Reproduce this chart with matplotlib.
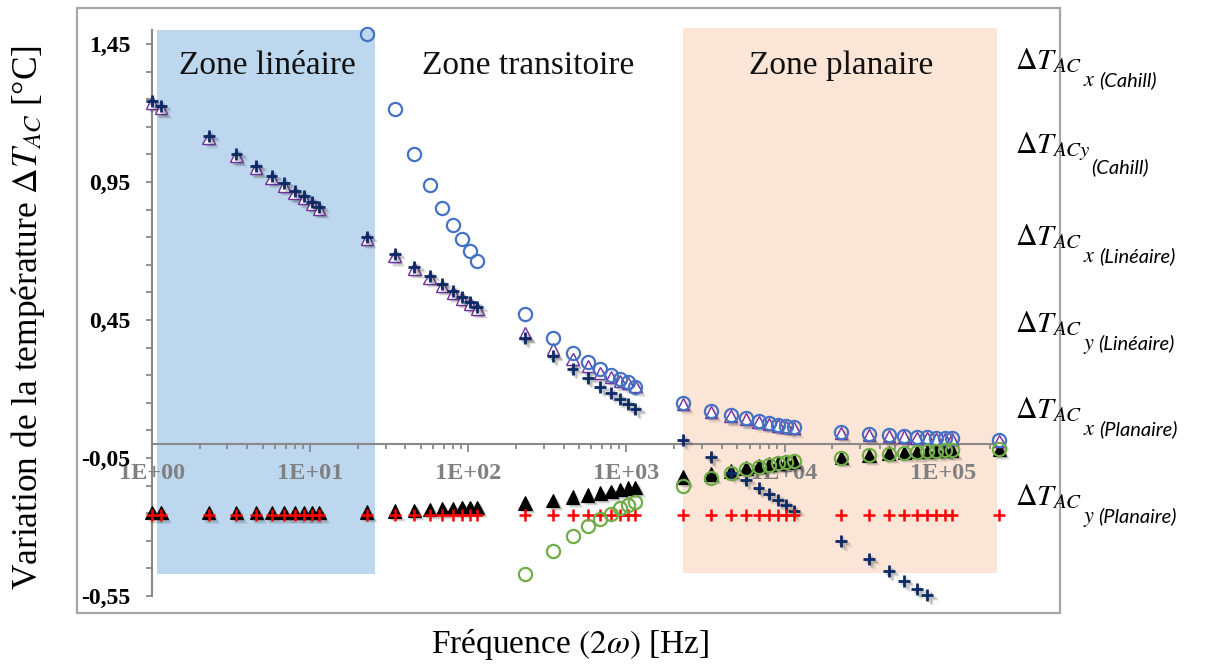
import numpy as np
import matplotlib
matplotlib.use("Agg")
import matplotlib.pyplot as plt
import matplotlib.patheffects as pe
from matplotlib.patches import Rectangle
from matplotlib.ticker import FixedLocator, LogLocator, NullFormatter, FuncFormatter

plt.rcParams['font.family'] = ['Liberation Serif', 'DejaVu Serif']
plt.rcParams['mathtext.fontset'] = 'stix'

nan = np.nan

# Excitation frequency 2w [Hz]
freq = [1.0, 1.14, 2.28, 3.42, 4.56, 5.70, 6.84, 7.98, 9.12, 10.26,
        11.4, 22.8, 34.2, 45.6, 57.0, 68.4, 79.8, 91.2, 102.6, 114.0,
        228.0, 342.0, 456.0, 570.0, 684.0, 798.0, 912.0, 1026.0, 1140.0,
        2280.0, 3420.0, 4560.0, 5700.0, 6840.0, 7980.0, 9120.0, 10260.0, 11400.0,
        22800.0, 34200.0, 45600.0, 57000.0, 68400.0, 79800.0, 91200.0, 102600.0, 114000.0,
        228000.0]

# Temperature oscillation components [degC]
cahill_x = [nan, nan, nan, nan, nan, nan, nan, nan, nan, nan,
            nan, 1.486, 1.214, 1.051, 0.939, 0.856, 0.794, 0.743, 0.700, 0.664,
            0.472, 0.385, 0.330, 0.298, 0.272, 0.251, 0.236, 0.225, 0.207,
            0.149, 0.120, 0.105, 0.094, 0.084, 0.077, 0.070, 0.066, 0.062,
            0.044, 0.037, 0.033, 0.030, 0.026, 0.026, 0.022, 0.022, 0.022,
            0.015]
cahill_y = [nan, nan, nan, nan, nan, nan, nan, nan, nan, nan,
            nan, nan, nan, nan, nan, nan, nan, nan, nan, nan,
            -0.470, -0.387, -0.333, -0.296, -0.271, -0.253, -0.232, -0.221, -0.210,
            -0.151, -0.122, -0.104, -0.090, -0.083, -0.075, -0.068, -0.065, -0.062,
            -0.050, -0.040, -0.034, -0.031, -0.029, -0.026, -0.025, -0.022, -0.021,
            -0.018]
lineaire_x = [1.243, 1.225, 1.117, 1.051, 1.008, 0.972, 0.946, 0.917, 0.899, 0.878,
              0.859, 0.751, 0.689, 0.642, 0.609, 0.580, 0.555, 0.533, 0.515, 0.497,
              0.385, 0.320, 0.272, 0.240, 0.207, 0.186, 0.164, 0.146, 0.128,
              0.015, -0.046, -0.105, -0.130, -0.159, -0.180, -0.202, -0.220, -0.242,
              -0.351, -0.416, -0.459, -0.496, -0.525, -0.546, nan, nan, nan,
              nan]
lineaire_y = [-0.255] * 48
planaire_x = [1.238, 1.218, 1.110, 1.044, 1.000, 0.965, 0.938, 0.910, 0.892, 0.871,
              0.853, 0.745, 0.682, 0.636, 0.603, 0.574, 0.549, 0.527, 0.509, 0.491,
              0.403, 0.345, 0.308, 0.283, 0.258, 0.244, 0.229, 0.222, 0.211,
              0.146, 0.117, 0.102, 0.091, 0.081, 0.074, 0.067, 0.063, 0.059,
              0.041, 0.034, 0.030, 0.027, 0.023, 0.023, 0.019, 0.019, 0.019,
              0.012]
planaire_y = [-0.248, -0.248, -0.248, -0.248, -0.248, -0.248, -0.248, -0.248, -0.248, -0.248,
              -0.248, -0.246, -0.242, -0.239, -0.236, -0.234, -0.232, -0.230, -0.229, -0.228,
              -0.213, -0.203, -0.191, -0.184, -0.177, -0.170, -0.163, -0.159, -0.156,
              -0.119, -0.108, -0.097, -0.086, -0.079, -0.072, -0.068, -0.065, -0.061,
              -0.047, -0.040, -0.032, -0.029, -0.027, -0.025, -0.023, -0.022, -0.021,
              -0.018]

# Series labels: (subscript at AC level, component, model)
legend_entries = [
    ('AC', 'x', 'Cahill'),
    ('ACy', '', 'Cahill'),
    ('AC', 'x', 'Linéaire'),
    ('AC', 'y', 'Linéaire'),
    ('AC', 'x', 'Planaire'),
    ('AC', 'y', 'Planaire'),
]
zone_names = ['Zone linéaire', 'Zone transitoire', 'Zone planaire']
y_major = [-0.55, -0.05, 0.45, 0.95, 1.45]
x_major = [1e0, 1e1, 1e2, 1e3, 1e4, 1e5]
x_labels = ['1E+00', '1E+01', '1E+02', '1E+03', '1E+04', '1E+05']

W, H = 1208, 664
fig = plt.figure(figsize=(W / 100, H / 100), dpi=100)
fig.patch.set_facecolor('white')
renderer = fig.canvas.get_renderer()


def px(x, y):
    return x / W, 1 - y / H


# Chart area border
fig.patches.append(Rectangle(px(77, 613), (1060 - 77) / W, (613 - 8) / H,
                             transform=fig.transFigure, fill=False,
                             edgecolor='#A6A6A6', linewidth=1.6, zorder=0))

ax_left, ax_right, ax_top, ax_bot = 152, 1000, 30.2, 596
ax = fig.add_axes([ax_left / W, 1 - ax_bot / H, (ax_right - ax_left) / W, (ax_bot - ax_top) / H])
ax.set_facecolor('none')
ax.set_xscale('log')
ax.set_xlim(1.0, 2.3e5)
ax.set_ylim(-0.55, 1.50)

# Shaded zones
ax.add_patch(Rectangle((1.08, -0.472), 25.7 - 1.08, 1.50 + 0.472,
                       facecolor='#BDD7EE', edgecolor='none', zorder=0))
ax.add_patch(Rectangle((2280, -0.466), 2.19e5 - 2280, 1.507 + 0.466,
                       facecolor='#FBE5D6', edgecolor='none', zorder=0, clip_on=False))

# Axes styling
axis_grey = '#898989'
for s in ['top', 'right']:
    ax.spines[s].set_visible(False)
ax.spines['bottom'].set_position(('data', 0.0))
for s in ['bottom', 'left']:
    ax.spines[s].set_color(axis_grey)
    ax.spines[s].set_linewidth(1.5)

ax.yaxis.set_major_locator(FixedLocator(y_major))
ax.yaxis.set_minor_locator(FixedLocator([v for v in np.arange(-0.45, 1.45, 0.1)]))
ax.yaxis.set_major_formatter(FuncFormatter(lambda v, p: f'{v:.2f}'.replace('.', ',')))
ax.tick_params(axis='y', which='both', direction='out', length=4.5, width=1.3,
               color=axis_grey, pad=11)
ax.tick_params(axis='y', which='major', labelsize=17)
for lab in ax.get_yticklabels():
    lab.set_fontweight('bold')

ax.xaxis.set_major_locator(FixedLocator(x_major))
ax.set_xticklabels(x_labels)
ax.xaxis.set_minor_locator(LogLocator(base=10, subs=np.arange(2, 10)))
ax.xaxis.set_minor_formatter(NullFormatter())
ax.tick_params(axis='x', which='major', direction='out', length=5.5, width=1.3,
               color=axis_grey, pad=8, labelsize=17.5, labelcolor='#808080')
ax.tick_params(axis='x', which='minor', direction='out', length=3.5, width=1.3,
               color=axis_grey)
for lab in ax.get_xticklabels():
    lab.set_fontweight('bold')


def shadow(filled):
    effects = []
    for off, a in [((3.2, -3.2), 0.08), ((2.4, -2.4), 0.14), ((1.6, -1.6), 0.16)]:
        if filled:
            effects.append(pe.SimplePatchShadow(offset=off, shadow_rgbFace='#303030', alpha=a))
        else:
            effects.append(pe.SimpleLineShadow(offset=off, shadow_color='#303030', alpha=a))
    effects.append(pe.Normal())
    return effects


f = np.array(freq)
common = dict(linestyle='none', clip_on=False)

ax.plot(f, planaire_y, marker='^', markersize=9.5, markerfacecolor='black',
        markeredgecolor='black', markeredgewidth=0.8, zorder=3,
        path_effects=shadow(True), **common)
ax.plot(f, planaire_x, marker='^', markersize=9.0, markerfacecolor='white',
        markeredgecolor='#7030A0', markeredgewidth=1.0, zorder=3,
        path_effects=shadow(True), **common)
ax.plot(f, lineaire_x, marker='+', markersize=8.5, markeredgecolor='#0C2A66',
        markeredgewidth=2.0, zorder=4, path_effects=shadow(False), **common)
ax.plot(f, lineaire_y, marker='+', markersize=8.5, markeredgecolor='#FF0000',
        markeredgewidth=1.8, zorder=4, **common)
ax.plot(f, cahill_x, marker='o', markersize=9.5, markerfacecolor='none',
        markeredgecolor='#4472C4', markeredgewidth=1.6, zorder=5, **common)
ax.plot(f, cahill_y, marker='o', markersize=9.5, markerfacecolor='none',
        markeredgecolor='#70AD47', markeredgewidth=1.6, zorder=5, **common)

# Zone titles
for name, cx in zip(zone_names, [267, 528, 841]):
    fig.text(*px(cx, 74), name, ha='center', va='baseline', fontsize=24,
             color='#111111')


# Series labels at the right, built piece by piece
def place(x, y, s, **kw):
    t = fig.text(*px(x, y), s, ha='left', va='baseline', **kw)
    bb = t.get_window_extent(renderer)
    return bb.x1


for (sub, comp, model), by in zip(legend_entries, [69, 153, 245, 332, 418, 505]):
    x = place(1015, by, r'$\Delta T_{' + sub + r'}$', fontsize=21.5)
    low = by + 17
    if comp:
        x = place(x + 1, low, r'$' + comp + r'$', fontsize=16)
        x += 3
    else:
        low = by + 20
    place(x, low, '(' + model + ')', fontsize=14.5, family='Lato', style='italic')

fig.text(*px(28, 318), r'Variation de la température $\Delta T_{AC}$ [°C]',
         rotation=90, ha='center', va='center', fontsize=25.5)
fig.text(*px(570, 645), r'Fréquence $(2\omega)$ [Hz]', ha='center', va='center',
         fontsize=24)

fig.savefig('out.png', dpi=100, facecolor='white')
